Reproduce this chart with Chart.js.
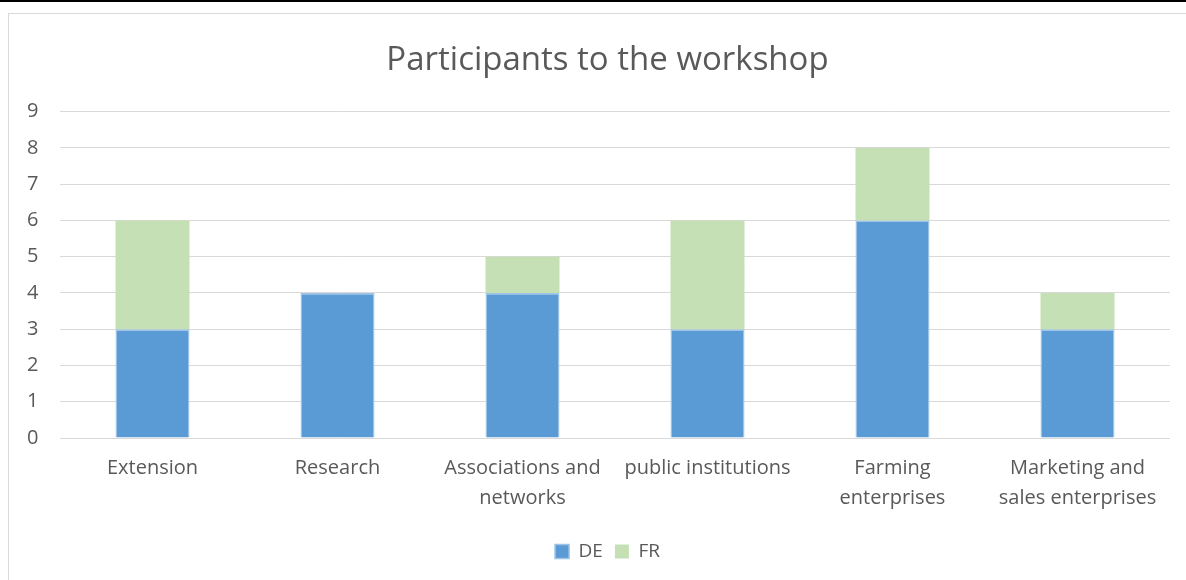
<!DOCTYPE html>
<html><head><meta charset="utf-8">
<script src="https://cdn.jsdelivr.net/npm/chart.js@4"></script>
<style>
html,body{margin:0;padding:0;background:#fff;width:1186px;height:580px;overflow:hidden;}
#topline{position:absolute;left:0;top:0;width:1186px;height:2px;background:#000;}
#frame{position:absolute;left:8px;top:13px;width:1200px;height:600px;border:1px solid #d9d9d9;box-sizing:border-box;}
#wrap{position:absolute;left:9px;top:14px;width:1177px;height:566px;}
</style></head>
<body>
<div id="topline"></div>
<div id="frame"></div>
<div id="wrap"><canvas id="c"></canvas></div>
<script>
const categories = ["Extension", "Research", ["Associations and", "networks"], "public institutions", ["Farming", "enterprises"], ["Marketing and", "sales enterprises"]];
const deValues = [3, 4, 4, 3, 6, 3];
const frValues = [3, 0, 1, 3, 2, 1];
const yTicks = [0, 1, 2, 3, 4, 5, 6, 7, 8, 9];
const FONT = "'Open Sans', sans-serif";
new Chart(document.getElementById('c'), {
  type: 'bar',
  data: {
    labels: categories,
    datasets: [
      {label: 'DE', data: deValues, backgroundColor: '#5B9BD5', borderColor: '#9DC3E6', borderWidth: 1.5, categoryPercentage: 1, barPercentage: 0.4},
      {label: 'FR', data: frValues, backgroundColor: '#C5E0B4', borderColor: '#C5E0B4', borderWidth: 0, categoryPercentage: 1, barPercentage: 0.4}
    ]
  },
  options: {
    responsive: true, maintainAspectRatio: false, animation: false,
    layout: {padding: {left: 36, right: 16, top: 0, bottom: 9}},
    plugins: {
      title: {display: true, text: 'Participants to the workshop', color: '#595959', font: {family: FONT, size: 33, weight: 'normal'}, padding: {top: 27, bottom: 31}},
      legend: {position: 'bottom', labels: {color: '#595959', font: {family: FONT, size: 19}, boxWidth: 14, boxHeight: 14, padding: 12}},
      tooltip: {enabled: false}
    },
    scales: {
      x: {stacked: true, grid: {display: false, drawTicks: false}, border: {display: false},
          afterFit: s => { s.height = 92; },
          ticks: {color: '#595959', font: {family: FONT, size: 20, lineHeight: 1.5}, padding: 15, maxRotation: 0, autoSkip: false}},
      y: {stacked: true, min: 0, max: 9, afterBuildTicks: a => { a.ticks = yTicks.map(v => ({value: v})); },
          afterFit: s => { s.width = 15; },
          grid: {color: '#d9d9d9', lineWidth: 1, drawTicks: false}, border: {display: false},
          ticks: {color: '#595959', font: {family: FONT, size: 20}, mirror: true, crossAlign: 'near', padding: -33, stepSize: 1}}
    }
  }
});
</script>
</body></html>
